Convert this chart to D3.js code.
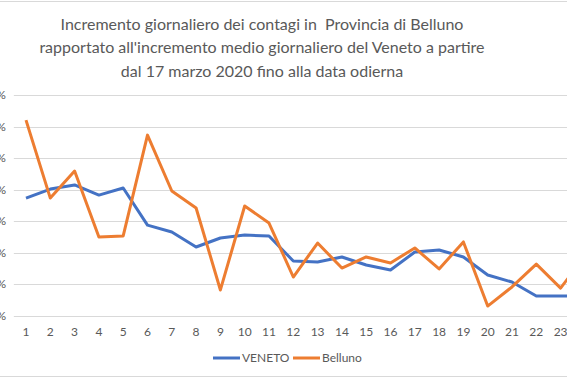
<!DOCTYPE html>
<html>
<head>
<meta charset="utf-8">
<script src="https://cdn.jsdelivr.net/npm/d3@7"></script>
<style>
  body { margin: 0; background: #fff; }
  svg { display: block; font-family: Lato, "Open Sans", sans-serif; }
</style>
</head>
<body>
<div id="chart"></div>
<script>
// days since 17 March 2020
const days = d3.range(1, 25);
const veneto = [7.47, 8.04, 8.30, 7.66, 8.11, 5.76, 5.32, 4.37, 4.94, 5.13, 5.07, 3.48,
  3.42, 3.74, 3.23, 2.91, 4.05, 4.18, 3.74, 2.60, 2.15, 1.27, 1.27, 1.27];
const belluno = [12.41, 7.47, 9.18, 5.00, 5.07, 11.46, 7.92, 6.84, 1.65, 6.97, 5.89, 2.47,
  4.62, 3.04, 3.74, 3.36, 4.31, 2.98, 4.69, 0.63, 1.84, 3.29, 1.77, 3.80];
const yTicks = [0, 2, 4, 6, 8, 10, 12, 14];
const titleLines = [
  "Incremento giornaliero dei contagi in  Provincia di Belluno",
  "rapportato all'incremento medio giornaliero del Veneto a partire",
  "dal 17 marzo 2020 fino alla data odierna"
];
const seriesNames = ["VENETO", "Belluno"];

const width = 567, height = 378;
const grey = "#595959";
const colors = ["#4472C4", "#ED7D31"];

const svg = d3.select("#chart").append("svg")
  .attr("width", width)
  .attr("height", height);

// chart area border (sides fall outside the crop)
svg.append("rect")
  .attr("x", -20).attr("y", 1.5)
  .attr("width", width + 40).attr("height", 375)
  .attr("fill", "#fff")
  .attr("stroke", "#d9d9d9");

// title
svg.append("g")
  .selectAll("text")
  .data(titleLines)
  .join("text")
  .attr("x", 262)
  .attr("y", (d, i) => 29.5 + i * 23.5)
  .attr("text-anchor", "middle")
  .attr("fill", grey)
  .style("font-size", "16px")
  .style("white-space", "pre")
  .text(d => d);

const plotLeft = 13.85;
const bandW = 24.3;

const x = d3.scaleBand()
  .domain(days)
  .range([plotLeft, plotLeft + bandW * days.length]);

const y = d3.scaleLinear()
  .domain([0, 14])
  .range([316, 95]);

// gridlines
svg.append("g")
  .selectAll("line")
  .data(yTicks)
  .join("line")
  .attr("x1", plotLeft)
  .attr("x2", x.range()[1])
  .attr("y1", d => Math.round(y(d)) + 0.5)
  .attr("y2", d => Math.round(y(d)) + 0.5)
  .attr("stroke", "#d9d9d9")
  .attr("stroke-width", 1);

// y labels (numbers cut off at the left edge, as in the original crop)
svg.append("g")
  .selectAll("text")
  .data(yTicks)
  .join("text")
  .attr("x", 6)
  .attr("y", d => y(d) + 4)
  .attr("text-anchor", "end")
  .attr("fill", grey)
  .style("font-size", "12px")
  .text(d => d + "%");

// x labels
svg.append("g")
  .selectAll("text")
  .data(days)
  .join("text")
  .attr("x", d => x(d) + x.bandwidth() / 2)
  .attr("y", 336)
  .attr("text-anchor", "middle")
  .attr("fill", grey)
  .style("font-size", "12px")
  .text(d => d);

const line = d3.line()
  .x((d, i) => x(days[i]) + x.bandwidth() / 2)
  .y(d => y(d));

[veneto, belluno].forEach((s, k) => {
  svg.append("path")
    .datum(s)
    .attr("d", line)
    .attr("fill", "none")
    .attr("stroke", colors[k])
    .attr("stroke-width", 3)
    .attr("stroke-linejoin", "round");
});

// legend
const legend = svg.append("g");
const legendX = [213, 293];
seriesNames.forEach((name, k) => {
  legend.append("line")
    .attr("x1", legendX[k]).attr("x2", legendX[k] + 27)
    .attr("y1", 358).attr("y2", 358)
    .attr("stroke", colors[k])
    .attr("stroke-width", 3);
  legend.append("text")
    .attr("x", legendX[k] + 29)
    .attr("y", 362)
    .attr("fill", grey)
    .style("font-size", "12px")
    .text(name);
});
</script>
</body>
</html>
